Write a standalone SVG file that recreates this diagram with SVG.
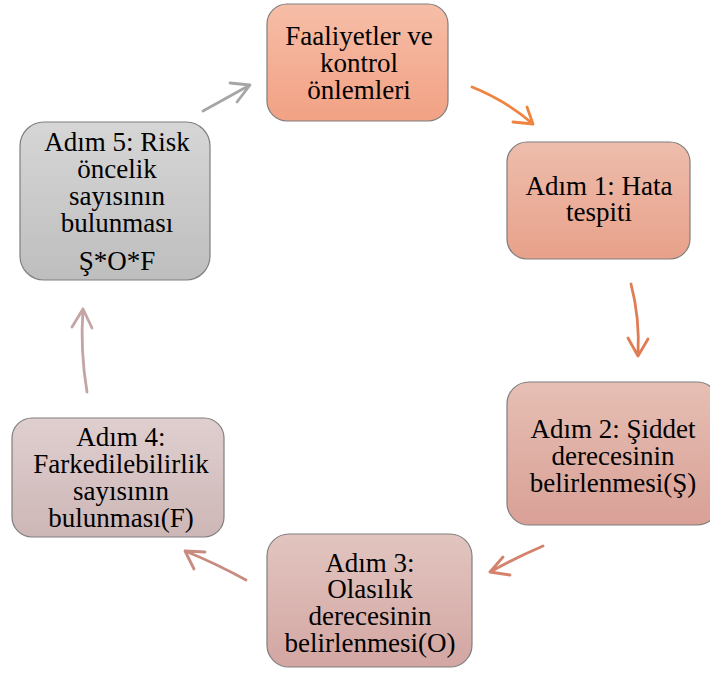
<svg xmlns="http://www.w3.org/2000/svg" width="710" height="673" viewBox="0 0 710 673">
<defs>
<linearGradient id="g0" x1="0" y1="0" x2="0" y2="1"><stop offset="0" stop-color="#F6BEA7"/><stop offset="1" stop-color="#F2A184"/></linearGradient>
<linearGradient id="g1" x1="0" y1="0" x2="0" y2="1"><stop offset="0" stop-color="#EDBDAC"/><stop offset="1" stop-color="#E8A18A"/></linearGradient>
<linearGradient id="g2" x1="0" y1="0" x2="0" y2="1"><stop offset="0" stop-color="#E6BFB4"/><stop offset="1" stop-color="#D9A096"/></linearGradient>
<linearGradient id="g3" x1="0" y1="0" x2="0" y2="1"><stop offset="0" stop-color="#E2C5C0"/><stop offset="1" stop-color="#D3A6A2"/></linearGradient>
<linearGradient id="g4" x1="0" y1="0" x2="0" y2="1"><stop offset="0" stop-color="#E0CFCF"/><stop offset="1" stop-color="#CDB6B6"/></linearGradient>
<linearGradient id="g5" x1="0" y1="0" x2="0" y2="1"><stop offset="0" stop-color="#D6D6D6"/><stop offset="1" stop-color="#BEBEBE"/></linearGradient>
</defs>
<style>
.box{stroke:#7F7F7F;stroke-width:1.2}
.t{font-family:"Liberation Serif","Times New Roman",serif;font-size:27px;fill:#000;text-anchor:middle}
.c{fill:none;stroke-width:2.8;stroke-linecap:round;stroke-linejoin:round}
</style>
<g id="connectors">
<path class="c" stroke="#EE8440" d="M472,87 Q505,100 533,124 M513,122 L533,124 L527,107"/>
<path class="c" stroke="#E07D55" d="M631,284 Q640,318 638,356 M628,338 L638,356 L648,339"/>
<path class="c" stroke="#D5826C" d="M543,546 Q515,558 490,572 M503,557 L490,572 L510,575"/>
<path class="c" stroke="#C88B80" d="M246,580 Q215,563 185,551 M205,552 L185,551 L194,569"/>
<path class="c" stroke="#C4A4A4" d="M87,392 Q80,350 83,309 M72,327 L83,309 L92,328"/>
<path class="c" stroke="#A6A6A6" d="M203,111 L250,85 M230,83 L250,85 L237,102"/>
</g>
<g id="n0">
<rect class="box" x="267" y="4" width="181" height="117" rx="20" fill="url(#g0)"/>
<text class="t"><tspan x="359" y="45">Faaliyetler ve</tspan><tspan x="359" y="72">kontrol</tspan><tspan x="359" y="99">önlemleri</tspan></text>
</g>
<g id="n1">
<rect class="box" x="507" y="142" width="183" height="117" rx="20" fill="url(#g1)"/>
<text class="t"><tspan x="599" y="195">Adım 1: Hata</tspan><tspan x="599" y="221">tespiti</tspan></text>
</g>
<g id="n2">
<rect class="box" x="507" y="382" width="212" height="143" rx="22" fill="url(#g2)"/>
<text class="t"><tspan x="613" y="438">Adım 2: Şiddet</tspan><tspan x="613" y="465">derecesinin</tspan><tspan x="613" y="492">belirlenmesi(Ş)</tspan></text>
</g>
<g id="n3">
<rect class="box" x="267" y="534" width="205" height="133" rx="22" fill="url(#g3)"/>
<text class="t"><tspan x="370" y="572">Adım 3:</tspan><tspan x="370" y="598">Olasılık</tspan><tspan x="370" y="625">derecesinin</tspan><tspan x="370" y="652">belirlenmesi(O)</tspan></text>
</g>
<g id="n4">
<rect class="box" x="12" y="418" width="212" height="119" rx="20" fill="url(#g4)"/>
<text class="t"><tspan x="121" y="446">Adım 4:</tspan><tspan x="121" y="473">Farkedilebilirlik</tspan><tspan x="121" y="500">sayısının</tspan><tspan x="121" y="527">bulunması(F)</tspan></text>
</g>
<g id="n5">
<rect class="box" x="20" y="122" width="190" height="158" rx="24" fill="url(#g5)"/>
<text class="t"><tspan x="117" y="151">Adım 5: Risk</tspan><tspan x="117" y="178">öncelik</tspan><tspan x="117" y="205">sayısının</tspan><tspan x="117" y="232">bulunması</tspan><tspan x="117" y="270">Ş*O*F</tspan></text>
</g>
</svg>
